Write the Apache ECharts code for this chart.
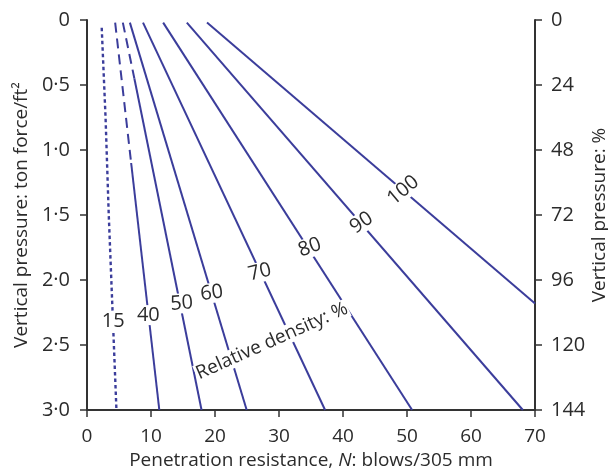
<!DOCTYPE html>
<html>
<head>
<meta charset="utf-8">
<script src="https://cdn.jsdelivr.net/npm/echarts@6/dist/echarts.min.js"></script>
<style>
html,body{margin:0;padding:0;background:#fff;}
#chart{width:608px;height:474px;}
</style>
</head>
<body>
<div id="chart"></div>
<script>
// Tick labels
const xTicks = [0, 10, 20, 30, 40, 50, 60, 70];
const leftTickLabels = ['0', '0·5', '1·0', '1·5', '2·0', '2·5', '3·0'];
const rightTicks = [0, 24, 48, 72, 96, 120, 144];

// Relative density curves: [N blows, vertical pressure ton/ft²]
const rd15 = [[2.3, 0.06], [2.9, 0.75], [3.4, 1.5], [4.0, 2.25], [4.6, 3.0]];
const rd40 = [[4.4, 0.02], [6.9, 1.1], [11.3, 3.0]];   // dashed to break, then solid
const rd50 = [[5.6, 0.02], [7.4, 0.45], [17.9, 3.0]];  // dashed to break, then solid
const rd60 = [[6.7, 0.02], [24.95, 3.0]];
const rd70 = [[8.75, 0.02], [37.2, 3.0]];
const rd80 = [[11.9, 0.02], [50.8, 3.0]];
const rd90 = [[15.6, 0.02], [68.1, 3.0]];
const rd100 = [[18.75, 0.02], [70, 2.18]];

// Curve labels: text and anchor in data coords, rotation in degrees
const curveLabelText = ['15', '40', '50', '60', '70', '80', '90', '100', 'Relative density: %'];
const curveLabelAt = [[4.1, 2.32], [9.58, 2.27], [14.8, 2.18], [19.5, 2.10], [27.0, 1.94], [34.8, 1.75], [42.9, 1.56], [49.4, 1.31], [28.9, 2.47]];
const curveLabelRot = [0, 0, 4, 8, 14, 20, 34, 40, 24];

const LINE = '#3b3d9b';
const TXT = '#2b2b2b';
const FONT = 'Open Sans';

function lineSeries(data, type) {
  const s = {
    type: 'line', data: data, symbol: 'none', silent: true,
    lineStyle: { color: LINE, width: 2, type: 'solid', cap: 'butt' },
    z: 2
  };
  if (type === 'dotted') { s.lineStyle.type = [3.5, 3]; s.lineStyle.width = 2.4; }
  if (type === 'dashed') { s.lineStyle.type = [10, 6]; }
  return s;
}

const series = [
  lineSeries(rd15, 'dotted'),
  lineSeries(rd40.slice(0, 2), 'dashed'),
  lineSeries(rd40.slice(1), 'solid'),
  lineSeries(rd50.slice(0, 2), 'dashed'),
  lineSeries(rd50.slice(1), 'solid'),
  lineSeries(rd60, 'solid'),
  lineSeries(rd70, 'solid'),
  lineSeries(rd80, 'solid'),
  lineSeries(rd90, 'solid'),
  lineSeries(rd100, 'solid'),
  {
    type: 'scatter', silent: true, z: 5,
    symbolSize: 1,
    itemStyle: { color: '#fff', opacity: 1 },
    label: {
      show: true, position: 'inside', color: TXT, opacity: 1,
      fontFamily: FONT, fontSize: 20, textBorderWidth: 0,
      backgroundColor: '#fff', padding: [0, 2]
    },
    data: curveLabelAt.map((p, i) => ({
      value: p,
      label: {
        formatter: curveLabelText[i],
        rotate: curveLabelRot[i],
        fontSize: i === 8 ? 19 : 20,
        padding: i === 8 ? [0, 1] : [0, 2]
      }
    }))
  }
];

const axisLineStyle = { show: true, onZero: false, lineStyle: { color: '#333', width: 2 } };
const tickStyle = { show: true, inside: false, length: 7, lineStyle: { color: '#333', width: 1.5 } };

const option = {
  animation: false,
  backgroundColor: '#fff',
  grid: { left: 87, right: 73, top: 20, bottom: 64, containLabel: false, outerBoundsMode: 'none' },
  xAxis: {
    type: 'value', min: 0, max: 70, interval: 10,
    axisLine: axisLineStyle, axisTick: tickStyle, splitLine: { show: false },
    axisLabel: { margin: 17, color: TXT, fontFamily: FONT, fontSize: 19,
      formatter: v => String(xTicks[Math.round(v / 10)]) },
    name: '{a|Penetration resistance, }{i|N}{a|: blows/305 mm}',
    nameLocation: 'middle', nameGap: 40,
    nameTextStyle: { color: TXT, fontFamily: FONT, fontSize: 19,
      rich: { a: { color: TXT, fontFamily: FONT, fontSize: 19 }, i: { color: TXT, fontFamily: FONT, fontSize: 19, fontStyle: 'italic' } } }
  },
  yAxis: [
    {
      type: 'value', min: 0, max: 3, interval: 0.5, inverse: true, position: 'left',
      axisLine: axisLineStyle, axisTick: tickStyle, splitLine: { show: false },
      axisLabel: { margin: 17, color: TXT, fontFamily: FONT, fontSize: 20,
        formatter: v => leftTickLabels[Math.round(v / 0.5)] },
      name: 'Vertical pressure: ton force/ft²', nameLocation: 'middle', nameGap: 56,
      nameTextStyle: { color: TXT, fontFamily: FONT, fontSize: 19 }
    },
    {
      type: 'value', min: 0, max: 144, interval: 24, inverse: true, position: 'right',
      axisLine: axisLineStyle, axisTick: tickStyle, splitLine: { show: false },
      axisLabel: { margin: 16, color: TXT, fontFamily: FONT, fontSize: 20,
        formatter: v => String(rightTicks[Math.round(v / 24)]) },
      name: 'Vertical pressure: %', nameLocation: 'middle', nameGap: 55,
      nameMoveOverlap: false,
      nameTextStyle: { color: TXT, fontFamily: FONT, fontSize: 19 }
    }
  ],
  series: series
};

const chart = echarts.init(document.getElementById('chart'), null, { renderer: 'canvas' });
chart.setOption(option);
</script>
</body>
</html>
